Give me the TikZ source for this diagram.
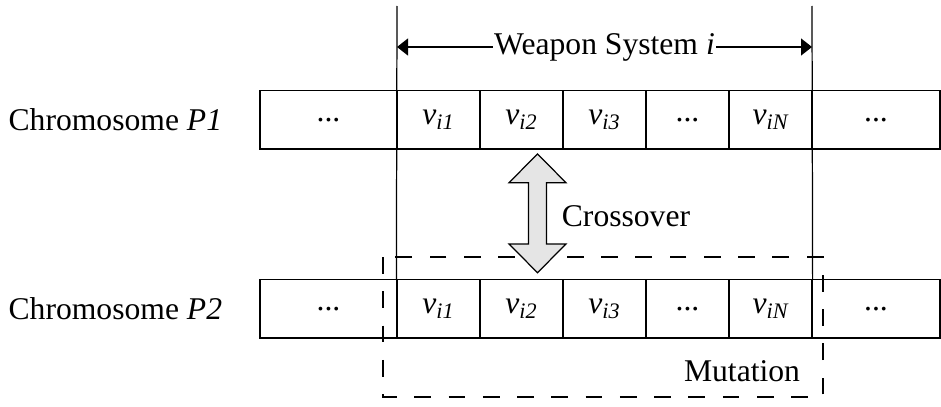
\documentclass[tikz,border=0pt]{standalone}
\usepackage{fontspec}
\setmainfont{Liberation Serif}
\usetikzlibrary{arrows.meta}

\tikzset{
  cell/.style={draw, line width=0.7pt, inner sep=0pt, minimum width=1.66cm, minimum height=1.166cm},
  endcell/.style={cell, minimum width=#1},
  mutbox/.style={line width=1.1pt, dash pattern=on 9.5pt off 10pt},
}
\newcommand{\vgene}[1]{\textit{v\textsubscript{i#1}}}

\begin{document}
\begin{tikzpicture}[font=\fontsize{18}{21.6}\selectfont, line width=0.7pt]
	\useasboundingbox (0,0) rectangle (18.82,-8.14);

	% first parent
	\node[anchor=west, inner sep=0pt] (lab1) at (0.16,-2.397) {Chromosome \textit{P1}};
	\node[endcell=2.74cm] (a0) at (6.57,-2.397) {...};
	\node[cell] (a1) at (8.77,-2.397) {\vgene{1}};
	\node[cell] (a2) at (10.43,-2.397) {\vgene{2}};
	\node[cell] (a3) at (12.09,-2.397) {\vgene{3}};
	\node[cell] (a4) at (13.75,-2.397) {...};
	\node[cell] (a5) at (15.41,-2.397) {\vgene{N}};
	\node[endcell=2.56cm] (a6) at (17.52,-2.397) {...};

	% second parent
	\node[anchor=west, inner sep=0pt] (lab2) at (0.16,-6.176) {Chromosome \textit{P2}};
	\node[endcell=2.74cm] (b0) at (6.57,-6.176) {...};
	\node[cell] (b1) at (8.77,-6.176) {\vgene{1}};
	\node[cell] (b2) at (10.43,-6.176) {\vgene{2}};
	\node[cell] (b3) at (12.09,-6.176) {\vgene{3}};
	\node[cell] (b4) at (13.75,-6.176) {...};
	\node[cell] (b5) at (15.41,-6.176) {\vgene{N}};
	\node[endcell=2.56cm] (b6) at (17.52,-6.176) {...};

	% weapon system span
	\coordinate (wl) at (7.94,-0.12);
	\coordinate (wr) at (16.24,-0.12);
	\draw (wl) -- (b1.north west);
	\draw (wr) -- (b5.north east);
	\node[inner sep=0.5pt] (ws) at (12.09,-0.94) {Weapon System \textit{i}};
	\draw[-{Triangle[length=0.22cm,width=0.34cm]}] (ws.west) -- (wl |- ws);
	\draw[-{Triangle[length=0.22cm,width=0.34cm]}] (ws.east) -- (wr |- ws);

	% mutation region
	\draw[mutbox] (7.66,-5.14) rectangle (16.46,-7.94);
	\node (mut) at (14.84,-7.43) {Mutation};

	% crossover arrow
	\draw[fill=black!10, line join=miter] (10.75,-3.08) -- (11.32,-3.654) -- (10.93,-3.654)
	  -- (10.93,-4.88) -- (11.32,-4.88) -- (10.75,-5.454) -- (10.18,-4.88)
	  -- (10.57,-4.88) -- (10.57,-3.654) -- (10.18,-3.654) -- cycle;
	\node (cross) at (12.52,-4.32) {Crossover};
\end{tikzpicture}
\end{document}
